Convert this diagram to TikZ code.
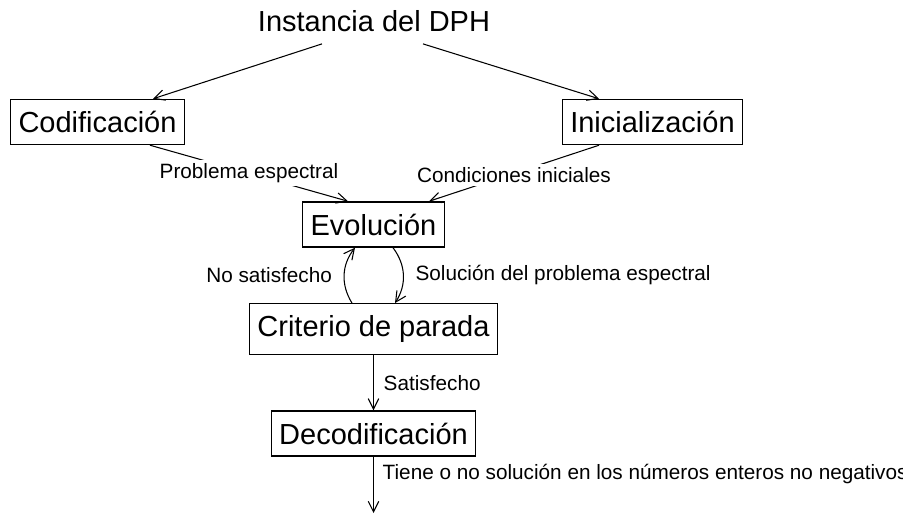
\documentclass[tikz,border=0pt]{standalone}
\usepackage{fontspec}
\setmainfont{Liberation Sans}
\usetikzlibrary{arrows.meta}

\begin{document}
\begin{tikzpicture}[line width=0.3pt,>={Straight Barb[length=3pt,width=3pt]}]
\tikzset{stage/.style={draw,line width=0.4pt,inner xsep=0.08cm,minimum height=0.38cm,
    font=\fontsize{8.25pt}{10pt}\selectfont},
  big/.style={font=\fontsize{8.25pt}{10pt}\selectfont},
  lbl/.style={font=\fontsize{5.9pt}{7pt}\selectfont},
  flow/.style={->}}
\useasboundingbox (0,0) rectangle (9.03,-5.14);
% ================= nodes =================
\node[big,minimum height=0.36cm] (dph) at (3.74,-0.21) {Instancia del DPH};
\node[stage] (cod) at (0.975,-1.22) {Codificación};
\node[stage] (ini) at (6.525,-1.22) {Inicialización};
\node[stage] (evo) at (3.735,-2.245) {Evolución};
\node[stage,minimum height=0.44cm] (crit) at (3.735,-3.29) {Criterio de parada};
\node[stage] (dec) at (3.735,-4.335) {Decodificación};
\coordinate (out) at (3.735,-5.13);
% ================= connectors =================
\draw[flow] ([xshift=-0.52cm]dph.south) -- ([xshift=0.555cm]cod.north);
\draw[flow] ([xshift=0.49cm]dph.south) -- ([xshift=-0.535cm]ini.north);
\draw[flow] ([xshift=0.525cm]cod.south) -- node[lbl,fill=white,inner sep=1pt] {Problema espectral} ([xshift=-0.255cm]evo.north);
\draw[flow] ([xshift=-0.535cm]ini.south) -- node[lbl,fill=white,inner sep=1pt,yshift=-0.015cm] {Condiciones iniciales} ([xshift=0.555cm]evo.north);
% loop between evolution and stop criterion
\draw[flow] ([xshift=0.195cm]evo.south) to[bend left=35] node[lbl,right] {Solución del problema espectral} ([xshift=0.215cm]crit.north);
\draw[flow] ([xshift=-0.215cm]crit.north) to[bend left=35] node[lbl,left] {No satisfecho} ([xshift=-0.185cm]evo.south);
% ---------- exit ----------
\draw[flow] (crit) -- node[lbl,right,xshift=-0.02cm] {Satisfecho} (dec);
\draw[flow] (dec) -- node[lbl,right,pos=0.3,xshift=-0.03cm] {Tiene o no solución en los números enteros no negativos} (out);
\end{tikzpicture}
\end{document}
